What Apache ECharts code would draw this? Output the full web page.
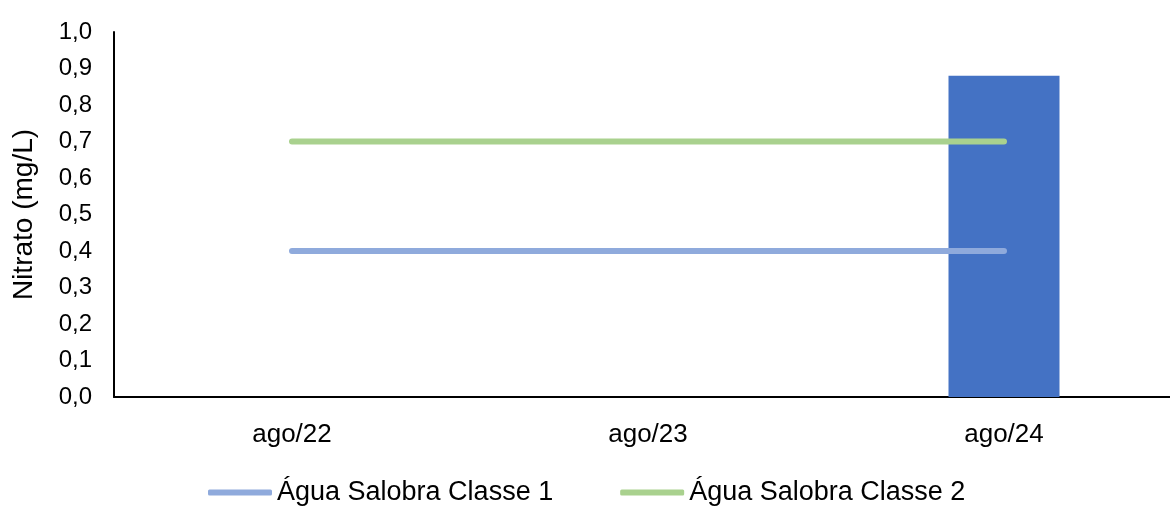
<!DOCTYPE html>
<html>
<head>
<meta charset="utf-8">
<script src="https://cdn.jsdelivr.net/npm/echarts@6/dist/echarts.min.js"></script>
<style>
  html, body { margin: 0; padding: 0; background: #fff; overflow: hidden; }
  /* the plot runs a bit past the right edge in the reference, so the canvas is wider than the window */
  #chart { width: 1182px; height: 506px; }
</style>
</head>
<body>
<div id="chart"></div>
<script>
// data
var categories = ["ago/22", "ago/23", "ago/24"];
var nitrato = ["-", "-", 0.88];
var classe1 = [0.4, 0.4, 0.4];
var classe2 = [0.7, 0.7, 0.7];
var classe1Name = "Água Salobra Classe 1";
var classe2Name = "Água Salobra Classe 2";

var font = "Liberation Sans, Arial, sans-serif";

var chart = echarts.init(document.getElementById("chart"));
var option = {
  animation: false,
  backgroundColor: "#fff",
  grid: { left: 114, right: 0, top: 32, bottom: 109, containLabel: false },
  legend: {
    data: [classe1Name, classe2Name],
    left: 208,
    bottom: 0,
    padding: 0,
    icon: "roundRect",
    itemWidth: 64,
    itemHeight: 6,
    itemGap: 67,
    textStyle: { fontFamily: font, fontSize: 27, color: "#000" }
  },
  xAxis: {
    type: "category",
    data: categories,
    axisLine: { lineStyle: { color: "#000", width: 2 } },
    axisTick: { show: false },
    axisLabel: { fontFamily: font, fontSize: 26, color: "#000", margin: 25 }
  },
  yAxis: {
    type: "value",
    min: 0,
    max: 1,
    interval: 0.1,
    name: "Nitrato (mg/L)",
    nameLocation: "middle",
    nameGap: 76,
    nameTextStyle: { fontFamily: font, fontSize: 28, color: "#000" },
    axisLine: { show: true, lineStyle: { color: "#000", width: 2 } },
    axisTick: { show: false },
    splitLine: { show: false },
    axisLabel: {
      fontFamily: font,
      fontSize: 24,
      color: "#000",
      margin: 22,
      formatter: (v) => v.toFixed(1).replace(".", ",")
    }
  },
  series: [
    {
      name: "Nitrato",
      type: "bar",
      data: nitrato,
      barWidth: 111,
      itemStyle: { color: "#4472C4" }
    },
    {
      name: classe1Name,
      type: "line",
      data: classe1,
      symbol: "none",
      itemStyle: { color: "#8FAADC" },
      lineStyle: { color: "#8FAADC", width: 6, cap: "round" }
    },
    {
      name: classe2Name,
      type: "line",
      data: classe2,
      symbol: "none",
      itemStyle: { color: "#A9D18E" },
      lineStyle: { color: "#A9D18E", width: 6, cap: "round" }
    }
  ]
};
chart.setOption(option);
</script>
</body>
</html>
